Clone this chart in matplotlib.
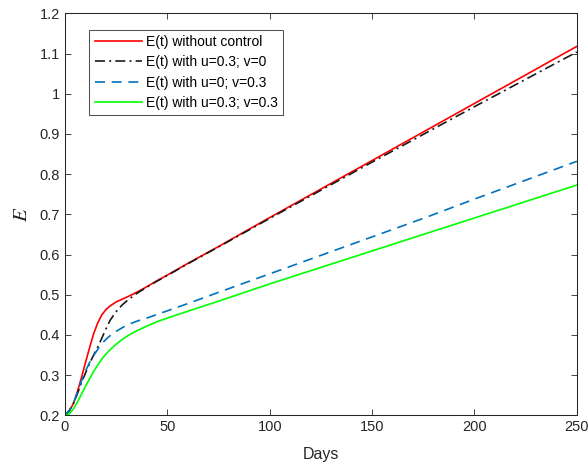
import matplotlib
matplotlib.use('Agg')
import matplotlib.pyplot as plt

plt.rcParams['font.family'] = ['Liberation Sans', 'DejaVu Sans']
plt.rcParams['mathtext.fontset'] = 'stix'

# data
days = [0, 2, 4, 6, 8, 10, 12, 14, 16, 18, 20, 22, 25, 28, 31, 35, 40, 45, 50,
        60, 75, 100, 125, 150, 175, 200, 225, 250]
e_none = [0.200, 0.210, 0.228, 0.257, 0.293, 0.331, 0.368, 0.403, 0.430, 0.450,
          0.463, 0.472, 0.482, 0.489, 0.496, 0.506, 0.520, 0.535, 0.549,
          0.578, 0.620, 0.692, 0.763, 0.834, 0.905, 0.976, 1.047, 1.118]
e_u = [0.200, 0.211, 0.228, 0.253, 0.280, 0.305, 0.329, 0.350, 0.370, 0.392,
       0.415, 0.436, 0.458, 0.475, 0.488, 0.503, 0.519, 0.534, 0.548,
       0.577, 0.619, 0.690, 0.760, 0.830, 0.899, 0.968, 1.036, 1.104]
e_v = [0.200, 0.211, 0.228, 0.256, 0.285, 0.310, 0.331, 0.349, 0.364, 0.378,
       0.389, 0.398, 0.409, 0.418, 0.426, 0.434, 0.442, 0.451, 0.460,
       0.478, 0.506, 0.552, 0.598, 0.644, 0.690, 0.738, 0.785, 0.832]
e_uv = [0.200, 0.203, 0.215, 0.232, 0.252, 0.272, 0.291, 0.309, 0.325, 0.340,
        0.352, 0.363, 0.377, 0.389, 0.399, 0.410, 0.422, 0.433, 0.442,
        0.459, 0.484, 0.527, 0.568, 0.609, 0.650, 0.691, 0.732, 0.773]
labels = ['E(t) without control', 'E(t) with u=0.3; v=0',
          'E(t) with u=0; v=0.3', 'E(t) with u=0.3; v=0.3']

fig = plt.figure(figsize=(5.88, 4.63), dpi=100)
ax = fig.add_axes([0.1105, 0.103, 0.8705, 0.868])

ax.plot(days, e_none, color='#FF0000', lw=1.2, label=labels[0])
ax.plot(days, e_u, color='#1a1a1a', lw=1.2, ls=(0, (6, 2.5, 1.2, 2.5)), label=labels[1])
ax.plot(days, e_v, color='#0072BD', lw=1.2, ls=(0, (6, 4)), label=labels[2])
ax.plot(days, e_uv, color='#00FF00', lw=1.2, label=labels[3])

ax.set_xlim(0, 250)
ax.set_ylim(0.2, 1.2)
ax.set_xticks([0, 50, 100, 150, 200, 250])
ax.set_yticks([0.2, 0.3, 0.4, 0.5, 0.6, 0.7, 0.8, 0.9, 1.0, 1.1, 1.2])
ax.set_yticklabels(['0.2', '0.3', '0.4', '0.5', '0.6', '0.7', '0.8', '0.9', '1', '1.1', '1.2'])
ax.tick_params(direction='in', top=True, right=True, labelsize=10.5,
               colors='#262626', length=4, width=0.6)
for s in ax.spines.values():
    s.set_color('#262626')
    s.set_linewidth(0.75)

ax.set_xlabel('Days', fontsize=11.5, color='#262626', labelpad=9)
ax.set_ylabel('$E$', fontsize=15, color='#262626', labelpad=6)

leg = ax.legend(loc='upper left', bbox_to_anchor=(0.047, 0.96), fontsize=10,
                frameon=True, fancybox=False, handlelength=3.4,
                borderpad=0.4, labelspacing=0.45, handletextpad=0.3,
                borderaxespad=0)
leg.get_frame().set_edgecolor('#262626')
leg.get_frame().set_linewidth(0.75)

fig.savefig('out.png', dpi=100)
